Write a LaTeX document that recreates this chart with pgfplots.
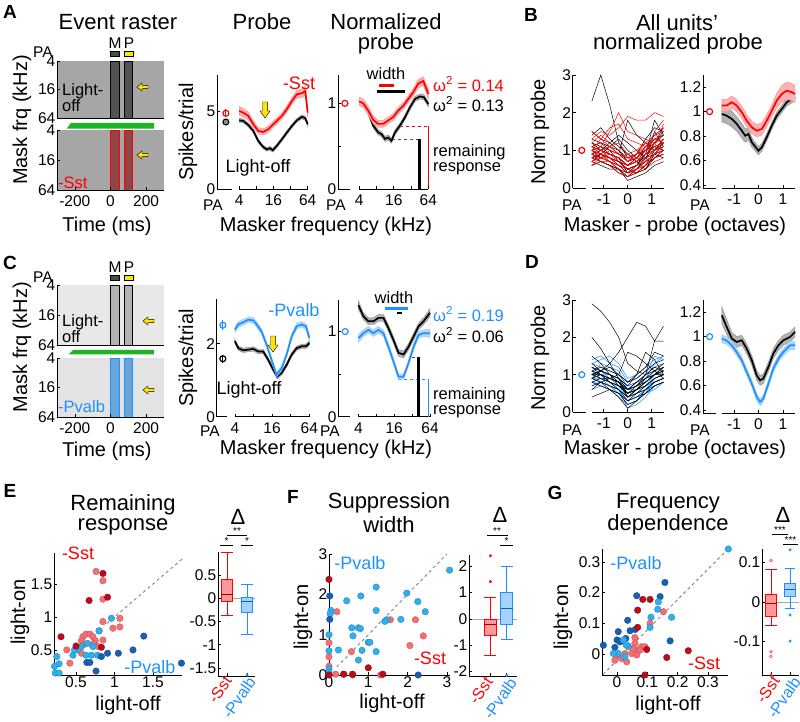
\documentclass[border=0pt]{standalone}
\usepackage{fontspec}
\setmainfont{Liberation Sans}
\usepackage{pgfplots}
\pgfplotsset{compat=1.18}
\usepackage{pgfplotstable}

\definecolor{pblue}{RGB}{30,144,255}
\definecolor{dred}{RGB}{190,10,25}
\definecolor{lred}{RGB}{245,110,115}
\definecolor{dblue}{RGB}{25,95,180}
\definecolor{lblue}{RGB}{45,175,240}
\definecolor{mgreen}{RGB}{30,180,40}
\definecolor{myyellow}{RGB}{255,230,0}

\newcommand{\fT}{\fontsize{22}{25}\selectfont}
\newcommand{\fL}{\fontsize{20}{22}\selectfont}
\newcommand{\fK}{\fontsize{15.5}{16}\selectfont}
\newcommand{\fS}{\fontsize{18}{18}\selectfont}
\newcommand{\fR}{\fontsize{16.5}{17}\selectfont}
\newcommand{\fA}{\fontsize{19}{19}\selectfont\bfseries}
\newcommand{\fB}{\fontsize{16}{16}\selectfont}

\newcommand{\T}[4][]{\node[inner sep=0pt,#1] at (#2pt,-#3pt) {#4};}
\newcommand{\larr}[2]{\begin{scope}[shift={(#1pt,-#2pt)}]\filldraw[fill=myyellow,draw=black,line width=0.4pt] (0,0)--(5pt,4pt)--(5pt,1.6pt)--(11pt,1.6pt)--(11pt,-1.6pt)--(5pt,-1.6pt)--(5pt,-4pt)--cycle;\end{scope}}
\newcommand{\darr}[2]{\begin{scope}[shift={(#1pt,-#2pt)}]\filldraw[fill=myyellow,draw=black,line width=0.4pt] (0,0)--(-5pt,7pt)--(-2.3pt,7pt)--(-2.3pt,16pt)--(2.3pt,16pt)--(2.3pt,7pt)--(5pt,7pt)--cycle;\end{scope}}

\pgfplotsset{
  base/.style={scale only axis, anchor=south west, axis lines=left,
    axis line style={-, line width=0.6pt}, axis on top, clip=false,
    tick style={line width=0.6pt, black}, major tick length=3pt, tick align=inside,
    ticklabel style={font=\fK, inner sep=1.5pt},
    /pgf/number format/assume math mode=true},
  shx/.style={xticklabel style={yshift=-4pt}},
}

% band (rows forward with s=1, then backward with s=-1) + mean line
\newcommand{\band}[3]{%
 \addplot[fill=#2, draw=#3!45, line width=0.4pt] table[x=x, y expr=\thisrow{y}+\thisrow{s}*\thisrow{e}] {#1} -- cycle;
 \addplot[draw=#3, line width=1.7pt] table[x=x,y=y] {#1};
}
% box: left right center lw q1 med q3 uw color
\newcommand{\bxp}[9]{%
 \addplot[draw=#9, line width=0.9pt] coordinates {(#3,#4)(#3,#5)};
 \addplot[draw=#9, line width=0.9pt] coordinates {(#3,#7)(#3,#8)};
 \addplot[draw=#9, line width=0.9pt] coordinates {(#1,#4)(#2,#4)};
 \addplot[draw=#9, line width=0.9pt] coordinates {(#1,#8)(#2,#8)};
 \addplot[fill=#9!40, draw=#9, line width=0.9pt] coordinates {(#1,#5)(#2,#5)(#2,#7)(#1,#7)} -- cycle;
 \addplot[draw=#9!65!black, line width=1.1pt] coordinates {(#1,#6)(#2,#6)};
}

% ---------------- data ----------------
\pgfplotstableread{
x y e s
2.0 5.0 0.28 1
2.23 4.89 0.28 1
2.53 4.68 0.25 1
2.82 4.15 0.22 1
3.11 3.72 0.2 1
3.40 3.65 0.2 1
3.70 3.83 0.2 1
3.89 4.04 0.2 1
4.19 4.36 0.2 1
4.49 4.68 0.2 1
4.78 5.11 0.2 1
5.08 5.64 0.22 1
5.37 6.07 0.25 1
5.66 6.13 0.28 1
5.86 6.28 0.3 1
6.0 4.89 0.3 1
6.0 4.89 0.3 -1
5.86 6.28 0.3 -1
5.66 6.13 0.28 -1
5.37 6.07 0.25 -1
5.08 5.64 0.22 -1
4.78 5.11 0.2 -1
4.49 4.68 0.2 -1
4.19 4.36 0.2 -1
3.89 4.04 0.2 -1
3.70 3.83 0.2 -1
3.40 3.65 0.2 -1
3.11 3.72 0.2 -1
2.82 4.15 0.22 -1
2.53 4.68 0.25 -1
2.23 4.89 0.28 -1
2.0 5.0 0.28 -1
}\tApr
\pgfplotstableread{
x y e s
2.0 4.40 0.13 1
2.23 4.36 0.13 1
2.53 4.10 0.12 1
2.82 3.72 0.12 1
3.11 3.08 0.12 1
3.40 2.69 0.12 1
3.60 2.54 0.12 1
3.80 2.61 0.12 1
3.96 2.48 0.12 1
4.19 2.76 0.12 1
4.49 3.18 0.12 1
4.78 3.61 0.12 1
5.08 4.04 0.12 1
5.37 4.40 0.12 1
5.66 4.62 0.13 1
5.86 4.53 0.13 1
6.0 4.15 0.13 1
6.0 4.15 0.13 -1
5.86 4.53 0.13 -1
5.66 4.62 0.13 -1
5.37 4.40 0.12 -1
5.08 4.04 0.12 -1
4.78 3.61 0.12 -1
4.49 3.18 0.12 -1
4.19 2.76 0.12 -1
3.96 2.48 0.12 -1
3.80 2.61 0.12 -1
3.60 2.54 0.12 -1
3.40 2.69 0.12 -1
3.11 3.08 0.12 -1
2.82 3.72 0.12 -1
2.53 4.10 0.12 -1
2.23 4.36 0.13 -1
2.0 4.40 0.13 -1
}\tApk
\pgfplotstableread{
x y e s
2.0 1.02 0.05 1
2.23 1.0 0.05 1
2.52 0.915 0.05 1
2.81 0.806 0.045 1
3.1 0.76 0.04 1
3.39 0.76 0.04 1
3.68 0.80 0.04 1
3.97 0.84 0.04 1
4.26 0.915 0.04 1
4.55 0.97 0.04 1
4.84 1.05 0.04 1
5.13 1.13 0.045 1
5.42 1.23 0.05 1
5.71 1.26 0.05 1
6.0 1.11 0.06 1
6.0 1.11 0.06 -1
5.71 1.26 0.05 -1
5.42 1.23 0.05 -1
5.13 1.13 0.045 -1
4.84 1.05 0.04 -1
4.55 0.97 0.04 -1
4.26 0.915 0.04 -1
3.97 0.84 0.04 -1
3.68 0.80 0.04 -1
3.39 0.76 0.04 -1
3.1 0.76 0.04 -1
2.81 0.806 0.045 -1
2.52 0.915 0.05 -1
2.23 1.0 0.05 -1
2.0 1.02 0.05 -1
}\tAnr
\pgfplotstableread{
x y e s
2.0 1.04 0.03 1
2.23 1.0 0.03 1
2.52 0.895 0.03 1
2.81 0.74 0.03 1
3.1 0.66 0.03 1
3.29 0.64 0.03 1
3.49 0.584 0.03 1
3.68 0.60 0.03 1
3.87 0.564 0.03 1
4.07 0.66 0.03 1
4.36 0.74 0.03 1
4.65 0.836 0.03 1
4.94 0.953 0.03 1
5.23 1.05 0.03 1
5.52 1.08 0.03 1
5.75 1.07 0.03 1
6.0 0.99 0.03 1
6.0 0.99 0.03 -1
5.75 1.07 0.03 -1
5.52 1.08 0.03 -1
5.23 1.05 0.03 -1
4.94 0.953 0.03 -1
4.65 0.836 0.03 -1
4.36 0.74 0.03 -1
4.07 0.66 0.03 -1
3.87 0.564 0.03 -1
3.68 0.60 0.03 -1
3.49 0.584 0.03 -1
3.29 0.64 0.03 -1
3.1 0.66 0.03 -1
2.81 0.74 0.03 -1
2.52 0.895 0.03 -1
2.23 1.0 0.03 -1
2.0 1.04 0.03 -1
}\tAnk
\pgfplotstableread{
x y e s
2.0 2.39 0.08 1
2.18 2.53 0.08 1
2.45 2.59 0.08 1
2.72 2.66 0.08 1
2.99 2.64 0.08 1
3.17 2.53 0.08 1
3.43 2.34 0.08 1
3.7 1.98 0.07 1
3.97 1.56 0.06 1
4.24 1.15 0.06 1
4.51 1.33 0.06 1
4.78 1.7 0.07 1
5.05 2.2 0.08 1
5.32 2.48 0.08 1
5.59 2.53 0.08 1
5.82 2.48 0.08 1
6.0 2.16 0.08 1
6.0 2.16 0.08 -1
5.82 2.48 0.08 -1
5.59 2.53 0.08 -1
5.32 2.48 0.08 -1
5.05 2.2 0.08 -1
4.78 1.7 0.07 -1
4.51 1.33 0.06 -1
4.24 1.15 0.06 -1
3.97 1.56 0.06 -1
3.7 1.98 0.07 -1
3.43 2.34 0.08 -1
3.17 2.53 0.08 -1
2.99 2.64 0.08 -1
2.72 2.66 0.08 -1
2.45 2.59 0.08 -1
2.18 2.53 0.08 -1
2.0 2.39 0.08 -1
}\tCpb
\pgfplotstableread{
x y e s
2.0 2.07 0.06 1
2.18 1.88 0.06 1
2.45 1.82 0.06 1
2.72 1.84 0.06 1
2.99 1.86 0.06 1
3.25 1.79 0.06 1
3.52 1.79 0.06 1
3.79 1.56 0.06 1
4.06 1.29 0.06 1
4.27 1.1 0.06 1
4.51 1.2 0.06 1
4.78 1.42 0.06 1
5.05 1.7 0.06 1
5.32 1.88 0.06 1
5.59 1.93 0.06 1
5.82 1.93 0.06 1
6.0 2.02 0.06 1
6.0 2.02 0.06 -1
5.82 1.93 0.06 -1
5.59 1.93 0.06 -1
5.32 1.88 0.06 -1
5.05 1.7 0.06 -1
4.78 1.42 0.06 -1
4.51 1.2 0.06 -1
4.27 1.1 0.06 -1
4.06 1.29 0.06 -1
3.79 1.56 0.06 -1
3.52 1.79 0.06 -1
3.25 1.79 0.06 -1
2.99 1.86 0.06 -1
2.72 1.84 0.06 -1
2.45 1.82 0.06 -1
2.18 1.88 0.06 -1
2.0 2.07 0.06 -1
}\tCpk
\pgfplotstableread{
x y e s
2.0 0.92 0.05 1
2.28 0.98 0.04 1
2.56 1.02 0.04 1
2.84 0.98 0.04 1
3.12 1.02 0.04 1
3.4 0.98 0.04 1
3.68 0.82 0.04 1
3.96 0.65 0.035 1
4.24 0.47 0.03 1
4.52 0.47 0.03 1
4.8 0.63 0.035 1
5.08 0.82 0.04 1
5.36 0.96 0.04 1
5.64 0.98 0.04 1
6.0 0.98 0.05 1
6.0 0.98 0.05 -1
5.64 0.98 0.04 -1
5.36 0.96 0.04 -1
5.08 0.82 0.04 -1
4.8 0.63 0.035 -1
4.52 0.47 0.03 -1
4.24 0.47 0.03 -1
3.96 0.65 0.035 -1
3.68 0.82 0.04 -1
3.4 0.98 0.04 -1
3.12 1.02 0.04 -1
2.84 0.98 0.04 -1
2.56 1.02 0.04 -1
2.28 0.98 0.04 -1
2.0 0.92 0.05 -1
}\tCnb
\pgfplotstableread{
x y e s
2.0 1.31 0.05 1
2.28 1.18 0.04 1
2.56 1.12 0.04 1
2.84 1.12 0.04 1
3.12 1.16 0.04 1
3.4 1.16 0.04 1
3.68 1.04 0.04 1
3.96 0.9 0.04 1
4.24 0.75 0.04 1
4.52 0.73 0.04 1
4.8 0.82 0.04 1
5.08 0.94 0.04 1
5.36 1.06 0.04 1
5.64 1.12 0.04 1
6.0 1.22 0.05 1
6.0 1.22 0.05 -1
5.64 1.12 0.04 -1
5.36 1.06 0.04 -1
5.08 0.94 0.04 -1
4.8 0.82 0.04 -1
4.52 0.73 0.04 -1
4.24 0.75 0.04 -1
3.96 0.9 0.04 -1
3.68 1.04 0.04 -1
3.4 1.16 0.04 -1
3.12 1.16 0.04 -1
2.84 1.12 0.04 -1
2.56 1.12 0.04 -1
2.28 1.18 0.04 -1
2.0 1.31 0.05 -1
}\tCnk
\pgfplotstableread{
x y e s
-1.5 1.05 0.05 1
-1.3 1.05 0.05 1
-1.09 1.077 0.05 1
-0.89 1.05 0.05 1
-0.68 0.995 0.05 1
-0.48 0.926 0.05 1
-0.27 0.872 0.05 1
-0.07 0.844 0.05 1
0.14 0.858 0.05 1
0.34 0.926 0.05 1
0.55 1.008 0.05 1
0.75 1.09 0.06 1
0.96 1.145 0.07 1
1.16 1.172 0.07 1
1.37 1.159 0.07 1
1.5 1.145 0.07 1
1.5 1.145 0.07 -1
1.37 1.159 0.07 -1
1.16 1.172 0.07 -1
0.96 1.145 0.07 -1
0.75 1.09 0.06 -1
0.55 1.008 0.05 -1
0.34 0.926 0.05 -1
0.14 0.858 0.05 -1
-0.07 0.844 0.05 -1
-0.27 0.872 0.05 -1
-0.48 0.926 0.05 -1
-0.68 0.995 0.05 -1
-0.89 1.05 0.05 -1
-1.09 1.077 0.05 -1
-1.3 1.05 0.05 -1
-1.5 1.05 0.05 -1
}\tBr
\pgfplotstableread{
x y e s
-1.5 0.981 0.065 1
-1.3 0.967 0.065 1
-1.09 0.94 0.065 1
-0.89 0.90 0.06 1
-0.68 0.844 0.06 1
-0.54 0.803 0.055 1
-0.41 0.817 0.05 1
-0.27 0.749 0.04 1
-0.14 0.716 0.035 1
0.0 0.68 0.035 1
0.14 0.708 0.03 1
0.34 0.79 0.03 1
0.55 0.885 0.03 1
0.75 0.967 0.03 1
0.96 1.022 0.03 1
1.16 1.077 0.03 1
1.5 1.118 0.03 1
1.5 1.118 0.03 -1
1.16 1.077 0.03 -1
0.96 1.022 0.03 -1
0.75 0.967 0.03 -1
0.55 0.885 0.03 -1
0.34 0.79 0.03 -1
0.14 0.708 0.03 -1
0.0 0.68 0.035 -1
-0.14 0.716 0.035 -1
-0.27 0.749 0.04 -1
-0.41 0.817 0.05 -1
-0.54 0.803 0.055 -1
-0.68 0.844 0.06 -1
-0.89 0.90 0.06 -1
-1.09 0.94 0.065 -1
-1.3 0.967 0.065 -1
-1.5 0.981 0.065 -1
}\tBk
\pgfplotstableread{
x y e s
-1.5 1.175 0.07 1
-1.3 1.08 0.06 1
-1.09 0.984 0.05 1
-0.89 0.957 0.045 1
-0.68 0.97 0.04 1
-0.48 0.902 0.04 1
-0.27 0.806 0.04 1
-0.07 0.683 0.04 1
0.07 0.642 0.04 1
0.2 0.656 0.04 1
0.41 0.752 0.04 1
0.61 0.861 0.04 1
0.82 0.929 0.04 1
1.02 0.97 0.04 1
1.3 0.998 0.04 1
1.5 1.038 0.04 1
1.5 1.038 0.04 -1
1.3 0.998 0.04 -1
1.02 0.97 0.04 -1
0.82 0.929 0.04 -1
0.61 0.861 0.04 -1
0.41 0.752 0.04 -1
0.2 0.656 0.04 -1
0.07 0.642 0.04 -1
-0.07 0.683 0.04 -1
-0.27 0.806 0.04 -1
-0.48 0.902 0.04 -1
-0.68 0.97 0.04 -1
-0.89 0.957 0.045 -1
-1.09 0.984 0.05 -1
-1.3 1.08 0.06 -1
-1.5 1.175 0.07 -1
}\tDk
\pgfplotstableread{
x y e s
-1.5 0.984 0.035 1
-1.3 0.967 0.03 1
-1.09 0.929 0.03 1
-0.89 0.874 0.03 1
-0.68 0.806 0.03 1
-0.48 0.711 0.03 1
-0.27 0.615 0.03 1
-0.07 0.506 0.03 1
0.07 0.465 0.03 1
0.2 0.492 0.03 1
0.41 0.615 0.03 1
0.61 0.738 0.03 1
0.82 0.82 0.03 1
1.02 0.874 0.03 1
1.3 0.929 0.035 1
1.5 0.929 0.035 1
1.5 0.929 0.035 -1
1.3 0.929 0.035 -1
1.02 0.874 0.03 -1
0.82 0.82 0.03 -1
0.61 0.738 0.03 -1
0.41 0.615 0.03 -1
0.2 0.492 0.03 -1
0.07 0.465 0.03 -1
-0.07 0.506 0.03 -1
-0.27 0.615 0.03 -1
-0.48 0.711 0.03 -1
-0.68 0.806 0.03 -1
-0.89 0.874 0.03 -1
-1.09 0.929 0.03 -1
-1.3 0.967 0.03 -1
-1.5 0.984 0.035 -1
}\tDb
% individual units
\pgfplotstableread{
x l1 l2 l3 l4 l5 l6 l7 l8 l9 l10 l11 l12 l13 l14 l15 l16 l17 l18 l19 l20
-1.5 0.9 1.1 0.7 1.3 0.8 1.0 0.6 1.2 0.9 1.0 0.8 0.7 1.1 0.9 1.5 0.6 1.0 0.8 1.2 0.9
-1.125 1.0 1.2 0.8 1.5 0.9 1.3 0.7 1.0 0.7 1.1 1.0 0.9 0.9 1.1 1.3 0.8 0.9 0.8 1.4 1.0
-0.75 0.9 1.1 0.7 1.4 0.7 1.6 0.6 0.9 0.7 1.0 1.1 0.8 0.8 1.5 1.1 0.9 0.7 1.0 1.2 0.8
-0.375 0.8 0.9 0.6 1.6 0.5 1.7 0.4 0.8 0.5 0.9 1.2 0.7 0.6 2.0 0.9 0.7 0.5 0.9 1.0 0.7
0 0.6 0.7 0.5 1.9 0.4 1.3 0.3 0.9 0.4 0.8 0.9 0.6 0.5 1.5 0.8 0.5 0.3 0.7 0.8 0.6
0.375 0.7 0.8 0.6 1.8 0.5 1.2 0.4 1.0 0.6 0.9 0.8 0.7 0.5 1.4 0.9 0.4 0.5 0.9 0.7 0.8
0.75 0.9 1.1 0.7 1.8 0.6 1.1 0.5 1.2 0.8 1.0 0.7 0.9 0.6 1.3 1.1 0.6 0.7 1.2 0.9 1.0
1.125 1.0 1.3 0.9 2.0 0.8 1.0 0.7 1.4 1.0 1.2 0.9 1.5 0.9 1.2 1.3 0.8 0.9 1.1 1.1 1.1
1.5 1.2 1.4 1.0 1.9 0.9 1.1 0.8 1.5 1.3 1.6 1.0 1.8 1.0 1.3 1.2 0.9 1.1 1.0 1.7 1.2
}\uBr
\pgfplotstableread{
x l1 l2 l3 l4 l5 l6 l7 l8 l9 l10 l11 l12 l13 l14 l15 l16 l17 l18 l19 l20
-1.5 2.3 0.9 1.5 0.7 1.0 0.8 1.2 0.6 1.0 0.9 1.1 0.8 1.3 0.7 1.4 0.9 1.1 1.0 0.8 1.2
-1.125 3.0 0.8 1.3 0.6 1.1 0.9 1.0 0.7 0.8 1.0 1.0 0.9 1.2 0.9 1.6 0.7 1.2 0.9 0.7 1.1
-0.75 2.2 0.7 1.2 0.5 1.0 0.8 0.9 0.6 0.8 0.9 1.2 0.8 1.1 0.8 1.3 0.6 1.0 1.1 0.6 0.9
-0.375 1.2 0.6 1.0 0.5 0.9 0.7 0.8 0.5 0.7 0.8 1.4 0.6 1.0 0.7 1.1 0.4 0.7 1.3 0.5 0.8
0 0.8 0.4 0.7 0.3 1.8 0.5 0.6 0.2 0.5 0.4 1.2 0.5 0.7 0.6 0.9 0.3 0.5 1.0 0.4 0.6
0.375 0.9 0.6 0.8 0.4 1.4 0.6 0.7 0.3 0.6 0.4 1.0 0.6 0.9 0.7 0.7 0.5 0.4 0.8 0.5 0.8
0.75 1.0 0.9 1.0 0.6 1.2 0.9 1.0 0.4 0.9 0.5 0.8 0.7 1.3 0.8 0.5 0.8 0.6 1.1 0.7 1.0
1.125 1.1 1.0 1.2 0.8 1.0 1.8 1.3 0.6 1.1 0.8 1.0 1.5 1.6 0.9 0.9 1.2 1.0 1.4 0.9 1.1
1.5 1.2 1.1 1.5 0.9 1.3 1.4 1.4 0.7 1.0 1.0 1.2 1.1 1.5 0.8 1.2 1.4 1.3 1.6 1.0 1.0
}\uBk
\pgfplotstableread{
x l1 l2 l3 l4 l5 l6 l7 l8 l9 l10 l11 l12 l13 l14 l15 l16 l17 l18 l19 l20
-1.5 2.9 2.0 1.0 0.9 1.1 0.4 1.2 0.8 1.0 1.3 0.7 1.0 0.9 1.1 1.5 0.8 1.0 0.6 1.2 0.9
-1.125 2.7 1.7 1.1 0.8 1.0 0.5 1.1 0.9 0.9 1.1 0.8 1.1 1.0 1.2 1.3 0.7 1.0 0.8 1.0 1.1
-0.75 2.4 1.3 1.3 0.7 0.9 0.6 1.0 0.8 0.9 1.0 0.6 1.0 0.9 1.1 1.0 0.6 0.8 0.9 0.8 1.2
-0.375 2.0 0.9 1.6 0.6 0.8 0.5 0.9 0.7 1.0 0.8 0.5 0.9 0.8 1.0 0.7 0.4 0.6 0.8 0.7 1.0
0 1.3 0.4 2.0 0.3 0.6 0.3 0.7 0.5 1.6 0.5 0.2 0.6 0.4 0.8 0.5 0.1 0.4 0.6 0.6 0.8
0.375 1.1 0.6 2.4 0.5 0.8 0.4 1.0 0.6 1.5 0.6 0.3 0.8 0.5 0.9 0.7 0.3 0.6 0.7 0.7 1.0
0.75 1.0 0.8 2.3 0.6 0.9 0.5 1.2 0.7 1.3 0.8 0.5 1.0 0.7 1.1 1.0 0.6 0.9 0.8 0.9 1.6
1.125 1.1 1.0 1.9 0.8 1.0 0.7 1.6 0.9 1.1 1.0 0.7 1.9 0.9 1.3 1.2 0.8 1.0 1.0 1.1 1.4
1.5 1.2 1.0 2.3 0.9 1.1 0.8 1.5 1.0 0.9 1.2 0.8 1.9 1.0 1.4 1.1 0.9 1.1 1.2 1.3 1.0
}\uDk
\pgfplotstableread{
x l1 l2 l3 l4 l5 l6 l7 l8 l9 l10 l11 l12 l13 l14 l15 l16 l17 l18 l19 l20
-1.5 1.0 1.1 0.9 1.3 0.8 1.0 0.9 1.2 0.7 1.0 1.4 0.8 1.1 0.9 1.2 0.6 1.0 0.9 1.3 0.8
-1.125 0.9 1.0 0.8 1.2 0.7 1.3 0.8 1.1 0.8 1.0 1.5 0.9 0.9 1.0 1.1 0.7 1.1 0.9 1.4 0.8
-0.75 0.8 0.9 0.7 1.1 0.6 1.2 0.7 1.0 0.7 0.9 1.3 0.8 0.8 1.0 0.9 0.6 1.0 0.7 1.5 0.7
-0.375 0.7 0.8 0.5 1.0 0.5 1.1 0.6 0.9 0.6 0.8 1.2 0.7 0.6 0.9 0.7 0.4 0.8 0.5 1.3 0.6
0 0.4 0.5 0.2 0.7 0.3 0.6 0.1 0.6 0.4 0.5 0.8 0.5 0.3 0.7 0.4 0.2 0.6 0.3 0.9 0.4
0.375 0.6 0.6 0.3 0.8 0.4 0.7 0.2 0.7 0.5 0.6 0.9 0.6 0.4 0.8 0.5 0.3 0.6 0.4 1.0 0.5
0.75 0.7 0.8 0.5 1.0 0.6 0.9 0.4 0.9 0.6 0.7 1.1 0.8 0.5 1.0 0.7 0.5 0.8 0.6 1.2 0.6
1.125 0.9 1.0 0.8 1.2 0.7 1.3 0.7 1.1 0.9 0.8 1.2 1.0 0.9 1.5 1.0 0.6 1.0 0.8 1.4 0.7
1.5 1.0 1.1 0.9 1.3 0.8 1.5 0.8 1.0 1.0 0.9 1.3 1.1 1.0 1.4 1.1 0.8 1.2 0.9 1.5 0.8
}\uDb

\begin{document}
\begin{tikzpicture}
\path[use as bounding box] (0,0) rectangle (800pt,-722pt);

% ================= A rasters =================
\begin{axis}[base, at={(57pt,-118pt)}, width=107pt, height=57pt, xmin=-300,xmax=300,ymin=2,ymax=6, y dir=reverse, xtick=\empty, ytick={2,4,6}, yticklabels={4,16,64}]
\addplot[fill=black!35,draw=none] coordinates {(-300,2)(300,2)(300,6)(-300,6)} -- cycle;
\addplot[fill=black!68,draw=black,line width=0.6pt] coordinates {(0,2)(50,2)(50,6)(0,6)} -- cycle;
\addplot[fill=black!68,draw=black,line width=0.6pt] coordinates {(75,2)(125,2)(125,6)(75,6)} -- cycle;
\addplot[fill=black!70,draw=black,line width=0.5pt] coordinates {(0,1.3)(50,1.3)(50,1.65)(0,1.65)} -- cycle;
\addplot[fill=myyellow,draw=black,line width=0.5pt] coordinates {(75,1.3)(125,1.3)(125,1.65)(75,1.65)} -- cycle;
\addplot[fill=mgreen,draw=none] coordinates {(-245,6.74)(-222,6.35)(245,6.35)(245,6.74)} -- cycle;
\end{axis}
\begin{axis}[base, shx, at={(57pt,-190pt)}, width=107pt, height=60pt, xmin=-300,xmax=300,ymin=2,ymax=6, y dir=reverse, xtick={-200,0,200}, xticklabels={-200,0,200}, ytick={2,4,6}, yticklabels={4,16,64}]
\addplot[fill=black!35,draw=none] coordinates {(-300,2)(300,2)(300,6)(-300,6)} -- cycle;
\addplot[fill={rgb,255:red,140;green,70;blue,70},draw=red,line width=0.7pt] coordinates {(0,2)(50,2)(50,6)(0,6)} -- cycle;
\addplot[fill={rgb,255:red,140;green,70;blue,70},draw=red,line width=0.7pt] coordinates {(75,2)(125,2)(125,6)(75,6)} -- cycle;
\end{axis}

% ================= C rasters =================
\begin{axis}[base, at={(57pt,-345pt)}, width=107pt, height=60pt, xmin=-300,xmax=300,ymin=2,ymax=6, y dir=reverse, xtick=\empty, ytick={2,4,6}, yticklabels={4,16,64}]
\addplot[fill=black!9,draw=none] coordinates {(-300,2)(300,2)(300,6)(-300,6)} -- cycle;
\addplot[fill=black!30,draw=black,line width=0.6pt] coordinates {(0,2)(50,2)(50,6)(0,6)} -- cycle;
\addplot[fill=black!30,draw=black,line width=0.6pt] coordinates {(75,2)(125,2)(125,6)(75,6)} -- cycle;
\addplot[fill=black!70,draw=black,line width=0.5pt] coordinates {(0,1.33)(50,1.33)(50,1.67)(0,1.67)} -- cycle;
\addplot[fill=myyellow,draw=black,line width=0.5pt] coordinates {(75,1.33)(125,1.33)(125,1.67)(75,1.67)} -- cycle;
\addplot[fill=mgreen,draw=none] coordinates {(-235,6.63)(-210,6.33)(244,6.33)(244,6.63)} -- cycle;
\end{axis}
\begin{axis}[base, shx, at={(57pt,-417pt)}, width=107pt, height=59pt, xmin=-300,xmax=300,ymin=2,ymax=6, y dir=reverse, xtick={-200,0,200}, xticklabels={-200,0,200}, ytick={2,4,6}, yticklabels={4,16,64}]
\addplot[fill=black!11,draw=none] coordinates {(-300,2)(300,2)(300,6)(-300,6)} -- cycle;
\addplot[fill={rgb,255:red,105;green,165;blue,215},draw=pblue,line width=0.7pt] coordinates {(0,2)(50,2)(50,6)(0,6)} -- cycle;
\addplot[fill={rgb,255:red,105;green,165;blue,215},draw=pblue,line width=0.7pt] coordinates {(75,2)(125,2)(125,6)(75,6)} -- cycle;
\end{axis}

% ================= A probe =================
\begin{axis}[base, shx, at={(217pt,-189pt)}, width=90.7pt, height=114pt, xmin=0.7,xmax=6,ymin=0,ymax=7.3, xtick={2,3,4,5,6}, xticklabels={4,,16,,64}, ytick={0,5}, yticklabels={0,5}, x axis line style={draw=none}]
\addplot[black, line width=0.6pt] coordinates {(0.7,0)(1.55,0)};
\addplot[black, line width=0.6pt] coordinates {(2,0)(6,0)};
\band{\tApk}{black!30}{black}
\band{\tApr}{red!30}{red}
\addplot[red, line width=1pt] coordinates {(1.22,4.6)(1.22,5.1)};
\addplot[only marks, mark=o, mark size=3pt, red, line width=1.2pt] coordinates {(1.22,4.85)};
\addplot[black, line width=1pt] coordinates {(1.22,4.12)(1.22,4.46)};
\addplot[only marks, mark=*, mark size=3pt, mark options={fill=black!45, draw=black, line width=1pt}] coordinates {(1.22,4.29)};
\end{axis}
% A normalized
\begin{axis}[base, shx, at={(338pt,-189pt)}, width=90.3pt, height=114pt, xmin=0.77,xmax=6,ymin=0,ymax=1.33, xtick={2,3,4,5,6}, xticklabels={4,,16,,64}, ytick={0,0.5,1}, yticklabels={0,,1}, x axis line style={draw=none}]
\addplot[black, line width=0.6pt] coordinates {(0.77,0)(1.45,0)};
\addplot[black, line width=0.6pt] coordinates {(2,0)(6,0)};
\addplot[red, dashed, line width=0.8pt] coordinates {(4.36,0.73)(6,0.73)};
\addplot[black!70, dashed, line width=0.8pt] coordinates {(3.9,0.584)(5.48,0.584)};
\band{\tAnk}{black!30}{black}
\band{\tAnr}{red!30}{red}
\addplot[red, line width=1.6pt] coordinates {(6,0)(6,0.73)};
\addplot[black, line width=2.6pt] coordinates {(5.48,0)(5.48,0.584)};
\addplot[red, line width=2.6pt] coordinates {(3.16,1.207)(4.03,1.207)};
\addplot[black, line width=2.6pt] coordinates {(3.01,1.137)(4.65,1.137)};
\addplot[only marks, mark=o, mark size=3pt, red, line width=1.2pt] coordinates {(1.17,1.0)};
\end{axis}

% ================= C probe =================
\begin{axis}[base, shx, at={(216.7pt,-416.7pt)}, width=92.6pt, height=117.4pt, xmin=1.02,xmax=6,ymin=0,ymax=3.22, xtick={2,3,4,5,6}, xticklabels={4,,16,,64}, ytick={0,2}, yticklabels={0,2}, x axis line style={draw=none}]
\addplot[black, line width=0.6pt] coordinates {(1.02,0)(1.6,0)};
\addplot[black, line width=0.6pt] coordinates {(2,0)(6,0)};
\band{\tCpk}{black!30}{black}
\band{\tCpb}{pblue!35}{pblue}
\addplot[pblue, line width=1pt] coordinates {(1.35,2.38)(1.35,2.64)};
\addplot[only marks, mark=o, mark size=3pt, pblue, line width=1.2pt] coordinates {(1.35,2.51)};
\addplot[black, line width=1pt] coordinates {(1.35,1.48)(1.35,1.70)};
\addplot[only marks, mark=o, mark size=3pt, black, line width=1.2pt] coordinates {(1.35,1.59)};
\end{axis}
% C normalized
\begin{axis}[base, shx, at={(338.3pt,-416.7pt)}, width=91.7pt, height=116.7pt, xmin=0.88,xmax=6,ymin=0,ymax=1.37, xtick={2,3,4,5,6}, xticklabels={4,,16,,64}, ytick={0,0.5,1}, yticklabels={0,,1}, x axis line style={draw=none}]
\addplot[black, line width=0.6pt] coordinates {(0.88,0)(1.55,0)};
\addplot[black, line width=0.6pt] coordinates {(2,0)(6,0)};
\addplot[black!70, dashed, line width=0.8pt] coordinates {(5.0,0.70)(5.35,0.70)};
\addplot[pblue, dashed, line width=0.8pt] coordinates {(4.2,0.44)(5.91,0.44)};
\band{\tCnk}{black!30}{black}
\band{\tCnb}{pblue!35}{pblue}
\addplot[black, line width=2.6pt] coordinates {(5.35,0)(5.35,0.70)};
\addplot[pblue, line width=1.6pt] coordinates {(5.91,0)(5.91,0.44)};
\addplot[pblue, line width=2.6pt] coordinates {(3.49,1.267)(4.79,1.267)};
\addplot[black, line width=2.6pt] coordinates {(4.15,1.216)(4.42,1.216)};
\addplot[only marks, mark=o, mark size=3pt, pblue, line width=1.2pt] coordinates {(1.26,1.0)};
\end{axis}

% ================= B =================
\begin{axis}[base, shx, at={(572.7pt,-188pt)}, width=90.8pt, height=113pt, xmin=-2.3,xmax=1.5,ymin=0,ymax=3, xtick={-1,0,1}, xticklabels={-1,0,1}, ytick={0,1,2,3}, yticklabels={0,1,2,3}, x axis line style={draw=none}]
\addplot[black, line width=0.6pt] coordinates {(-2.3,0)(-1.75,0)};
\addplot[black, line width=0.6pt] coordinates {(-1.5,0)(1.5,0)};
\pgfplotsinvokeforeach{1,...,20}{\addplot[black, line width=0.5pt] table[x=x,y=l#1] {\uBk};}
\pgfplotsinvokeforeach{1,...,20}{\addplot[red, line width=0.5pt] table[x=x,y=l#1] {\uBr};}
\addplot[only marks, mark=o, mark size=3pt, red, line width=1.2pt] coordinates {(-1.92,1.0)};
\end{axis}
\begin{axis}[base, shx, at={(703pt,-188pt)}, width=92pt, height=113pt, xmin=-2.27,xmax=1.5,ymin=0.375,ymax=1.3, xtick={-1,0,1}, xticklabels={-1,0,1}, ytick={0.4,0.6,0.8,1,1.2}, yticklabels={0.4,0.6,0.8,1,1.2}, x axis line style={draw=none}]
\addplot[black, line width=0.6pt] coordinates {(-2.27,0.375)(-1.75,0.375)};
\addplot[black, line width=0.6pt] coordinates {(-1.5,0.375)(1.5,0.375)};
\band{\tBk}{black!30}{black}
\band{\tBr}{red!30}{red}
\addplot[only marks, mark=o, mark size=3pt, red, line width=1.2pt] coordinates {(-2.0,1.0)};
\end{axis}

% ================= D =================
\begin{axis}[base, shx, at={(572.7pt,-412pt)}, width=90.8pt, height=112pt, xmin=-2.3,xmax=1.5,ymin=0,ymax=3, xtick={-1,0,1}, xticklabels={-1,0,1}, ytick={0,1,2,3}, yticklabels={0,1,2,3}, x axis line style={draw=none}]
\addplot[black, line width=0.6pt] coordinates {(-2.3,0)(-1.75,0)};
\addplot[black, line width=0.6pt] coordinates {(-1.5,0)(1.5,0)};
\pgfplotsinvokeforeach{1,...,20}{\addplot[pblue, line width=0.5pt] table[x=x,y=l#1] {\uDb};}
\pgfplotsinvokeforeach{1,...,20}{\addplot[black, line width=0.5pt] table[x=x,y=l#1] {\uDk};}
\addplot[only marks, mark=o, mark size=3pt, pblue, line width=1.2pt] coordinates {(-1.92,1.0)};
\end{axis}
\begin{axis}[base, shx, at={(703pt,-413pt)}, width=92pt, height=113pt, xmin=-2.27,xmax=1.5,ymin=0.375,ymax=1.3, xtick={-1,0,1}, xticklabels={-1,0,1}, ytick={0.4,0.6,0.8,1,1.2}, yticklabels={0.4,0.6,0.8,1,1.2}, x axis line style={draw=none}]
\addplot[black, line width=0.6pt] coordinates {(-2.27,0.375)(-1.75,0.375)};
\addplot[black, line width=0.6pt] coordinates {(-1.5,0.375)(1.5,0.375)};
\band{\tDk}{black!30}{black}
\band{\tDb}{pblue!35}{pblue}
\addplot[only marks, mark=o, mark size=3pt, pblue, line width=1.2pt] coordinates {(-2.0,1.0)};
\end{axis}

% ================= E =================
\begin{axis}[base, at={(54pt,-675pt)}, width=128pt, height=122pt, xmin=0.214,xmax=1.877,ymin=0.12,ymax=1.97, xtick={0.5,1,1.5}, xticklabels={0.5,1,1.5}, ytick={0.5,1,1.5}, yticklabels={0.5,1,1.5}]
\addplot[black!45, dashed, line width=1pt] coordinates {(0.9,0.9)(1.88,1.88)};
\addplot[only marks, mark=*, mark size=3.3pt, mark options={fill=lred, draw=lred!75!black, line width=0.3pt}] coordinates {(0.76,1.69)(0.85,1.55)(0.85,1.27)(1.07,0.98)(1.07,0.85)(0.98,0.83)(0.85,0.93)(0.80,0.79)(0.85,0.65)(0.79,0.55)(0.59,0.70)(0.63,0.74)(0.68,0.74)(0.72,0.70)(0.75,0.64)(0.73,0.59)(0.57,0.64)(0.60,0.58)(0.42,0.30)(0.57,0.45)(0.38,0.50)};
\addplot[only marks, mark=*, mark size=3.3pt, mark options={fill=lblue, draw=lblue!75!black, line width=0.3pt}] coordinates {(0.96,0.98)(0.52,0.50)(0.46,0.42)(0.57,0.55)(0.65,0.60)(0.72,0.55)(0.70,0.42)(0.78,0.42)(0.63,0.42)(0.25,0.40)(0.28,0.29)(0.23,0.15)(0.28,0.15)(0.22,0.25)(0.80,0.79)(0.48,0.50)};
\addplot[only marks, mark=*, mark size=3.3pt, mark options={fill=dred, draw=dred!70!black, line width=0.3pt}] coordinates {(0.305,0.70)(0.50,0.56)(0.67,1.25)(0.85,1.66)(0.91,1.30)(0.83,0.54)};
\addplot[only marks, mark=*, mark size=3.3pt, mark options={fill=dblue, draw=dblue!70!black, line width=0.3pt}] coordinates {(1.38,0.71)(1.24,0.50)(1.05,0.45)(0.91,0.45)(0.83,0.40)(0.64,0.31)(0.68,0.31)(0.76,0.18)(1.87,0.30)};
\end{axis}
\begin{axis}[base, at={(218pt,-676pt)}, width=37pt, height=124pt, xmin=0.55,xmax=2.4,ymin=-1.67,ymax=0.99, xtick={1,2}, xticklabels={}, ytick={-1.5,-1,-0.5,0,0.5}, yticklabels={-1.5,-1,-0.5,0,0.5}]
\addplot[black!35, line width=0.5pt] coordinates {(0.55,0)(2.4,0)};
\bxp{0.72}{1.28}{1}{-0.38}{-0.07}{0.08}{0.4}{0.97}{red}
\bxp{1.72}{2.28}{2}{-0.77}{-0.31}{-0.08}{0.02}{0.29}{pblue}
\addplot[only marks, mark=*, mark size=1.3pt, pblue] coordinates {(2,-1.65)};
\end{axis}

% ================= F =================
\begin{axis}[base, at={(329pt,-675pt)}, width=121pt, height=121pt, xmin=0,xmax=3.08,ymin=0,ymax=3.0, xtick={0,1,2,3}, xticklabels={0,1,2,3}, ytick={0,1,2,3}, yticklabels={0,1,2,3}]
\addplot[black!45, dashed, line width=1pt] coordinates {(0.2,0.2)(3.0,3.0)};
\addplot[only marks, mark=*, mark size=3.3pt, mark options={fill=lred, draw=lred!75!black, line width=0.3pt}] coordinates {(0.2,1.57)(0,0.8)(0,0.45)(0,0.22)(0.57,0.58)(1.56,1.37)(2.2,1.37)(2.4,0.97)(2.06,0.73)(0.17,0.02)(0.38,0.02)(0.6,0.0)(1.31,0.0)};
\addplot[only marks, mark=*, mark size=3.3pt, mark options={fill=lblue, draw=lblue!75!black, line width=0.3pt}] coordinates {(3.07,2.6)(1.2,2.18)(1.98,2.03)(0.81,1.96)(0.45,1.84)(2.26,1.82)(1.2,1.6)(2.45,1.57)(0.05,1.6)(0.03,1.52)(0,1.0)(0,0.6)(0,0.15)(0,0.05)(1.47,1.37)(1.42,1.33)(1.83,1.38)(0.58,1.17)(0.75,1.17)(0.8,1.15)(0.61,0.97)(1.0,0.81)(1.04,0.81)(0.24,0.62)(0.84,0.61)(0.75,0.37)(1.2,0.58)};
\addplot[only marks, mark=*, mark size=3.3pt, mark options={fill=dred, draw=dred!70!black, line width=0.3pt}] coordinates {(0,2.37)(0,0.0)(0.37,0.02)(0.6,0.02)(1.0,0.18)(1.37,0.02)};
\addplot[only marks, mark=*, mark size=3.3pt, mark options={fill=dblue, draw=dblue!70!black, line width=0.3pt}] coordinates {(0.02,1.96)(0.02,1.38)(2.27,0.0)};
\end{axis}
\begin{axis}[base, at={(469pt,-676pt)}, width=48pt, height=121pt, xmin=-0.31,xmax=2.63,ymin=-2.17,ymax=2.43, xtick={1,2}, xticklabels={}, ytick={-2,-1,0,1,2}, yticklabels={-2,-1,0,1,2}]
\addplot[black!35, line width=0.5pt] coordinates {(-0.31,0)(2.63,0)};
\bxp{0.63}{1.37}{1}{-1.38}{-0.61}{-0.2}{-0.02}{0.8}{red}
\bxp{1.63}{2.37}{2}{-0.78}{-0.2}{0.41}{1.01}{2.0}{pblue}
\addplot[only marks, mark=*, mark size=1.3pt, red] coordinates {(1,1.42)(1,2.4)};
\addplot[only marks, mark=*, mark size=1.3pt, pblue] coordinates {(2,-2.15)};
\end{axis}

% ================= G =================
\begin{axis}[base, at={(602pt,-675pt)}, width=126pt, height=126pt, xmin=-0.0495,xmax=0.366,ymin=-0.068,ymax=0.342, xtick={0,0.1,0.2,0.3}, xticklabels={0,0.1,0.2,0.3}, ytick={0,0.1,0.2,0.3}, yticklabels={0,0.1,0.2,0.3}]
\addplot[black!45, dashed, line width=1pt] coordinates {(-0.046,-0.066)(0.366,0.342)};
\addplot[only marks, mark=*, mark size=3.3pt, mark options={fill=lred, draw=lred!75!black, line width=0.3pt}] coordinates {(0.153,0.138)(0.109,0.1)(0.059,0.054)(0.081,0.024)(0.068,0.013)(0.048,0.002)(-0.001,-0.003)(0.015,-0.014)(0.032,-0.025)(0.065,-0.003)(0.076,0.013)(0.092,0.024)(0.054,0.018)(0.037,0.026)(0.059,0.035)(-0.007,-0.02)(0.026,0.002)};
\addplot[only marks, mark=*, mark size=3.3pt, mark options={fill=dblue, draw=dblue!70!black, line width=0.3pt}] coordinates {(0.158,0.233)(0.065,0.19)(0.142,0.187)(0.035,0.11)(0.043,0.076)(0.06,0.08)(0.004,0.073)(0.0,0.046)(0.01,0.04)(0.029,0.051)(-0.007,0.022)(-0.045,0.029)(0.175,0.043)};
\addplot[only marks, mark=*, mark size=3.3pt, mark options={fill=lblue, draw=lblue!75!black, line width=0.3pt}] coordinates {(0.367,0.342)(0.136,0.17)(0.134,0.146)(0.112,0.12)(0.18,0.12)(0.109,0.087)(0.021,0.046)(0.037,0.024)(0.004,0.002)(0.026,-0.009)(-0.012,0.002)(0.03,0.03)};
\addplot[only marks, mark=*, mark size=3.3pt, mark options={fill=dred, draw=dred!70!black, line width=0.3pt}] coordinates {(0.085,0.178)(0.109,0.178)(0.068,0.143)(0.068,0.087)(0.098,0.015)(0.164,-0.011)(0.235,0.011)(0.092,-0.068)};
\end{axis}
\begin{axis}[base, at={(762pt,-675pt)}, width=37pt, height=126pt, xmin=0.53,xmax=2.47,ymin=-0.185,ymax=0.134, xtick={1,2}, xticklabels={}, ytick={-0.1,0,0.1}, yticklabels={-0.1,0,0.1}]
\addplot[black!35, line width=0.5pt] coordinates {(0.53,0)(2.47,0)};
\bxp{0.7}{1.3}{1}{-0.06}{-0.037}{-0.003}{0.018}{0.083}{red}
\bxp{1.72}{2.28}{2}{-0.016}{0.015}{0.032}{0.047}{0.085}{pblue}
\addplot[only marks, mark=o, mark size=1.4pt, red!70, line width=0.6pt] coordinates {(1,0.105)(1,-0.126)(1,-0.138)(1,-0.185)};
\addplot[only marks, mark=*, mark size=1.3pt, pblue] coordinates {(2,0.132)(2,-0.033)(2,-0.099)};
\end{axis}

% ================= texts =================
\T[font=\fA]{10}{12}{A}
\T[font=\fA]{10}{263}{C}
\T[font=\fA]{531}{15}{B}
\T[font=\fA]{532}{262}{D}
\T[font=\fA]{10}{491}{E}
\T[font=\fA]{293}{497}{F}
\T[font=\fA]{555}{493}{G}

\T[font=\fT]{118}{22}{Event raster}
\T[font=\fT]{262}{22}{Probe}
\T[font=\fT]{386}{22}{Normalized}
\T[font=\fT]{386}{44}{probe}
\T[font=\fT]{677}{23}{All units’}
\T[font=\fT]{678}{44}{normalized probe}

\T[font=\fL,rotate=90]{22}{120}{Mask frq (kHz)}
\T[font=\fL,rotate=90]{22}{347}{Mask frq (kHz)}
\T[font=\fK]{43}{52}{PA}
\T[font=\fK]{43}{277}{PA}
\T[font=\fK]{115}{43}{M}
\T[font=\fK]{129}{43}{P}
\T[font=\fK]{115}{267}{M}
\T[font=\fK]{129}{267}{P}
\T[font=\fR,anchor=west,align=left]{62}{98}{Light-\\[-1pt]off}
\T[font=\fR,anchor=west,align=left]{62}{329}{Light-\\[-1pt]off}
\T[font=\fR,text=red,anchor=west]{58}{183}{-Sst}
\T[font=\fR,text=pblue,anchor=west]{58}{407}{-Pvalb}
\larr{137}{87}
\larr{137}{155}
\larr{143}{321}
\larr{143}{390}
\T[font=\fL]{107}{226}{Time (ms)}
\T[font=\fL]{107}{451}{Time (ms)}

\T[font=\fL,rotate=90]{188}{132}{Spikes/trial}
\T[font=\fL,rotate=90]{188}{358}{Spikes/trial}
\T[font=\fL]{326}{226}{Masker frequency (kHz)}
\T[font=\fL]{326}{449}{Masker frequency (kHz)}
\T[font=\fK]{213}{205}{PA}
\T[font=\fK]{336}{205}{PA}
\T[font=\fK]{210}{431}{PA}
\T[font=\fK]{330}{431}{PA}
\T[font=\fS,text=red]{299}{83}{-Sst}
\T[font=\fS]{258}{168}{Light-off}
\T[font=\fS,text=pblue]{294}{310}{-Pvalb}
\T[font=\fS]{249}{390}{Light-off}
\darr{265}{118}
\darr{273}{352}
\T[font=\fR]{386}{74}{width}
\T[font=\fR]{394}{298}{width}
\T[font=\fR,text=red,anchor=west]{433}{84}{ω\textsuperscript{2} = 0.14}
\T[font=\fR,anchor=west]{433}{104}{ω\textsuperscript{2} = 0.13}
\T[font=\fR,text=pblue,anchor=west]{433}{314}{ω\textsuperscript{2} = 0.19}
\T[font=\fR,anchor=west]{433}{335}{ω\textsuperscript{2} = 0.06}
\T[font=\fR,anchor=west,align=left]{433}{160}{remaining\\[-2pt]response}
\T[font=\fR,anchor=west,align=left]{433}{403}{remaining\\[-2pt]response}

\T[font=\fL,rotate=90]{540}{132}{Norm probe}
\T[font=\fL,rotate=90]{540}{358}{Norm probe}
\T[font=\fK]{572}{205}{PA}
\T[font=\fK]{700}{205}{PA}
\T[font=\fK]{572}{430}{PA}
\T[font=\fK]{700}{430}{PA}
\T[font=\fL]{675}{226}{Masker - probe (octaves)}
\T[font=\fL]{675}{449}{Masker - probe (octaves)}

\T[font=\fT]{123}{505}{Remaining}
\T[font=\fT]{123}{527}{response}
\T[font=\fT]{389}{503}{Suppression}
\T[font=\fT]{389}{525}{width}
\T[font=\fT]{668}{503}{Frequency}
\T[font=\fT]{668}{525}{dependence}
\T[font=\fT]{238}{517}{Δ}
\T[font=\fT]{500}{515}{Δ}
\T[font=\fT]{783}{515}{Δ}

\T[font=\fL,rotate=90]{20}{612}{light-on}
\T[font=\fL,rotate=90]{303}{617}{light-on}
\T[font=\fL,rotate=90]{563}{617}{light-on}
\T[font=\fL]{128}{705}{light-off}
\T[font=\fL]{392}{703}{light-off}
\T[font=\fL]{668}{705}{light-off}
\T[font=\fS,text=red]{78}{553}{-Sst}
\T[font=\fS,text=pblue]{150}{667}{-Pvalb}
\T[font=\fS,text=pblue]{360}{563}{-Pvalb}
\T[font=\fS,text=red]{430}{658}{-Sst}
\T[font=\fS,text=pblue]{636}{563}{-Pvalb}
\T[font=\fS,text=red]{704}{663}{-Sst}

\T[font=\fB,text=red,rotate=55,anchor=east]{228}{678}{-Sst}
\T[font=\fB,text=pblue,rotate=55,anchor=east]{252}{679}{-Pvalb}
\T[font=\fB,text=red,rotate=55,anchor=east]{489}{679}{-Sst}
\T[font=\fB,text=pblue,rotate=55,anchor=east]{513}{680}{-Pvalb}
\T[font=\fB,text=red,rotate=55,anchor=east]{776}{678}{-Sst}
\T[font=\fB,text=pblue,rotate=55,anchor=east]{797}{679}{-Pvalb}

% significance bars
\draw[line width=0.6pt] (220pt,-545pt)--(233pt,-545pt);
\draw[line width=0.6pt] (241pt,-545pt)--(253pt,-545pt);
\draw[line width=0.6pt] (227pt,-535pt)--(247pt,-535pt);
\T[font=\fontsize{10}{10}\selectfont]{226.5}{541}{*}
\T[font=\fontsize{10}{10}\selectfont]{247}{541}{*}
\T[font=\fontsize{10}{10}\selectfont]{237}{531}{**}
\draw[line width=0.6pt] (487pt,-535pt)--(508pt,-535pt);
\draw[line width=0.6pt] (500pt,-545pt)--(513pt,-545pt);
\T[font=\fontsize{10}{10}\selectfont]{497}{531}{**}
\T[font=\fontsize{10}{10}\selectfont]{506.5}{541}{*}
\draw[line width=0.6pt] (772pt,-534pt)--(788pt,-534pt);
\draw[line width=0.6pt] (783pt,-544pt)--(798pt,-544pt);
\T[font=\fontsize{10}{10}\selectfont]{780}{530}{***}
\T[font=\fontsize{10}{10}\selectfont]{790.5}{540}{***}
\end{tikzpicture}
\end{document}
